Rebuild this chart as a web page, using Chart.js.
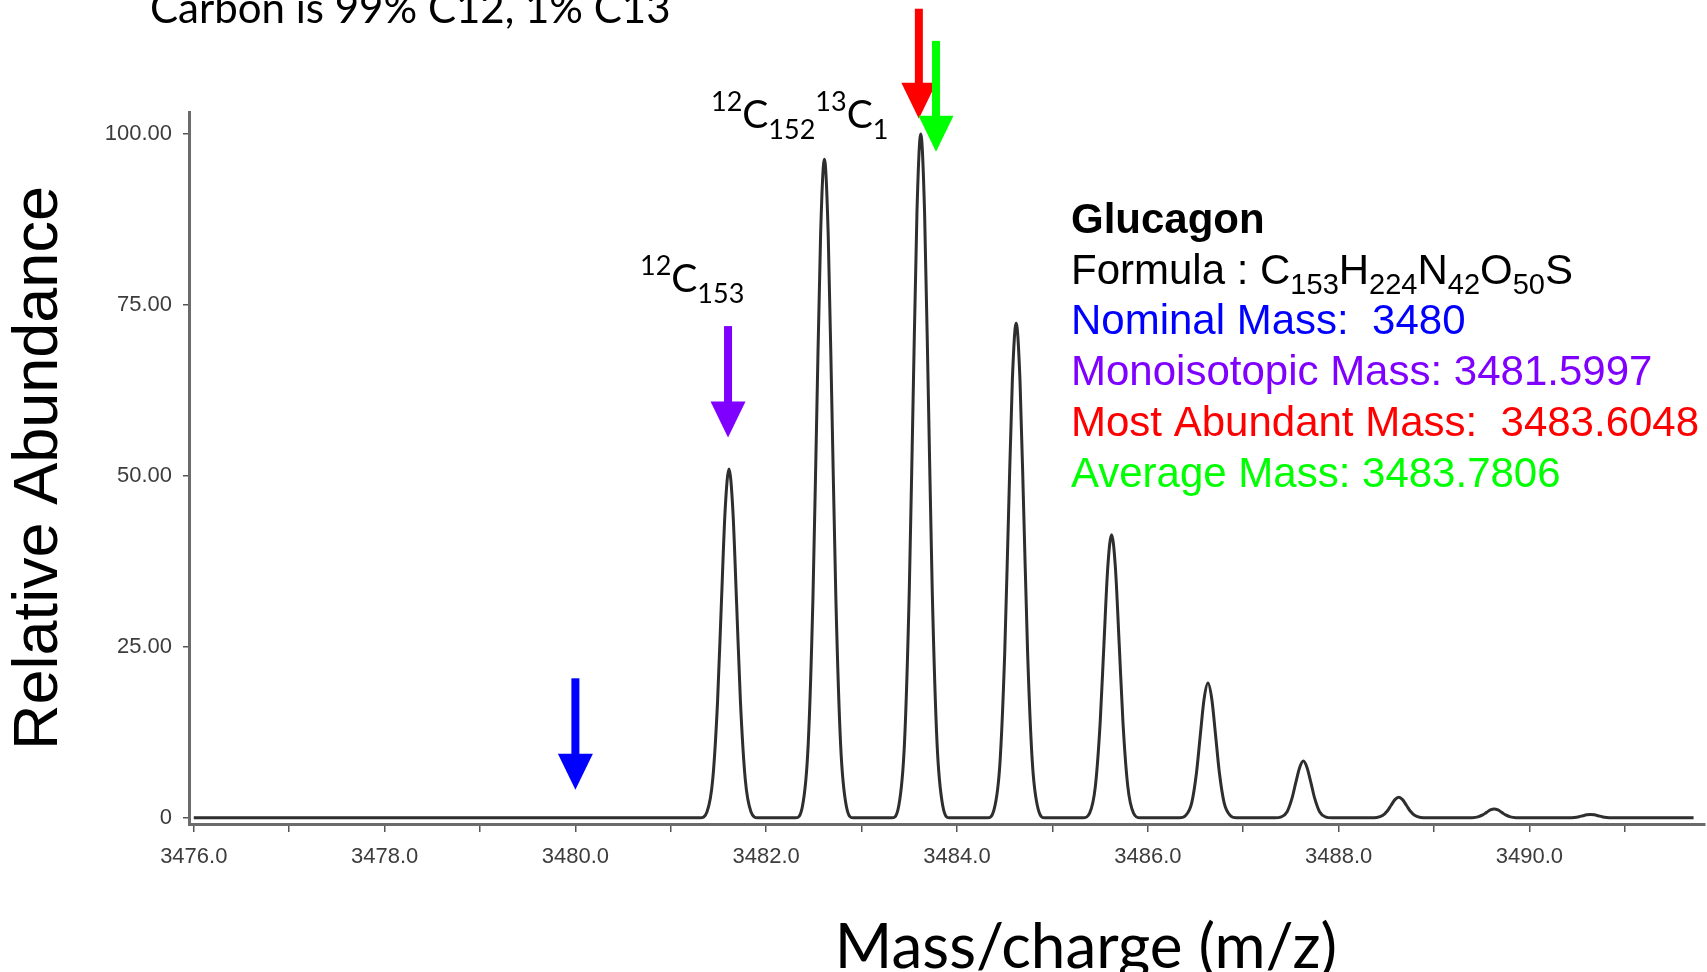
<!DOCTYPE html>
<html>
<head>
<meta charset="utf-8">
<title>Glucagon isotope distribution</title>
<script src="https://cdn.jsdelivr.net/npm/chart.js@4.4.1/dist/chart.umd.min.js"></script>
<style>
  html, body { margin: 0; padding: 0; background: #fff; }
  #wrap { position: relative; width: 1707px; height: 972px; }
</style>
</head>
<body>
<div id="wrap"><canvas id="spectrum"></canvas></div>
<script>
// profile trace, one row per isotope peak
var mz = [
  3476.00,
  3481.31, 3481.38, 3481.44, 3481.49, 3481.53, 3481.57, 3481.61, 3481.65, 3481.69, 3481.73, 3481.78, 3481.84, 3481.91,
  3482.31, 3482.38, 3482.44, 3482.49, 3482.53, 3482.57, 3482.61, 3482.65, 3482.69, 3482.73, 3482.78, 3482.84, 3482.91,
  3483.32, 3483.39, 3483.45, 3483.50, 3483.54, 3483.58, 3483.62, 3483.66, 3483.70, 3483.74, 3483.79, 3483.85, 3483.92,
  3484.32, 3484.39, 3484.45, 3484.50, 3484.54, 3484.58, 3484.62, 3484.66, 3484.70, 3484.74, 3484.79, 3484.85, 3484.92,
  3485.32, 3485.39, 3485.45, 3485.50, 3485.54, 3485.58, 3485.62, 3485.66, 3485.70, 3485.74, 3485.79, 3485.85, 3485.92,
  3486.33, 3486.40, 3486.46, 3486.51, 3486.55, 3486.59, 3486.63, 3486.67, 3486.71, 3486.75, 3486.80, 3486.86, 3486.93,
  3487.33, 3487.40, 3487.46, 3487.51, 3487.55, 3487.59, 3487.63, 3487.67, 3487.71, 3487.75, 3487.80, 3487.86, 3487.93,
  3488.33, 3488.40, 3488.46, 3488.51, 3488.55, 3488.59, 3488.63, 3488.67, 3488.71, 3488.75, 3488.80, 3488.86, 3488.93,
  3489.33, 3489.40, 3489.46, 3489.51, 3489.55, 3489.59, 3489.63, 3489.67, 3489.71, 3489.75, 3489.80, 3489.86, 3489.93,
  3490.34, 3490.41, 3490.47, 3490.52, 3490.56, 3490.60, 3490.64, 3490.68, 3490.72, 3490.76, 3490.81, 3490.87, 3490.94,
  3491.72
];
var abundance = [
  0,
  0, 0.9, 5.7, 17.0, 31.3, 45.1, 51.0, 45.1, 31.3, 17.0, 5.7, 0.9, 0,
  0, 1.7, 10.7, 32.2, 59.1, 85.2, 96.3, 85.2, 59.1, 32.2, 10.7, 1.7, 0,
  0, 1.8, 11.1, 33.4, 61.4, 88.5, 100.0, 88.5, 61.4, 33.4, 11.1, 1.8, 0,
  0, 1.3, 8.0, 24.1, 44.4, 64.0, 72.3, 64.0, 44.4, 24.1, 8.0, 1.3, 0,
  0, 0.7, 4.6, 13.8, 25.4, 36.6, 41.4, 36.6, 25.4, 13.8, 4.6, 0.7, 0,
  0, 0.4, 2.2, 6.6, 12.1, 17.4, 19.7, 17.4, 12.1, 6.6, 2.2, 0.4, 0,
  0, 0.15, 0.9, 2.8, 5.1, 7.3, 8.3, 7.3, 5.1, 2.8, 0.9, 0.15, 0,
  0, 0.05, 0.33, 1.0, 1.84, 2.66, 3.0, 2.66, 1.84, 1.0, 0.33, 0.05, 0,
  0, 0.02, 0.14, 0.43, 0.8, 1.15, 1.3, 1.15, 0.8, 0.43, 0.14, 0.02, 0,
  0, 0.01, 0.06, 0.17, 0.31, 0.44, 0.5, 0.44, 0.31, 0.17, 0.06, 0.01, 0,
  0
];

var xTicks = [3476, 3477, 3478, 3479, 3480, 3481, 3482, 3483, 3484, 3485, 3486, 3487, 3488, 3489, 3490, 3491];
var xTickLabels = ['3476.0', '', '3478.0', '', '3480.0', '', '3482.0', '', '3484.0', '', '3486.0', '', '3488.0', '', '3490.0', ''];
var yTicks = [0, 25, 50, 75, 100];
var yTickLabels = ['0', '25.00', '50.00', '75.00', '100.00'];

// arrows: m/z position, tail and tip in abundance units
var arrows = [
  { mz: 3480.0,  tail: 20.4,  tip: 4.1,   color: '#0000ff' },
  { mz: 3481.6,  tail: 71.9,  tip: 55.6,  color: '#7f00ff' },
  { mz: 3483.6,  tail: 118.3, tip: 102.2, color: '#ff0000' },
  { mz: 3483.78, tail: 113.6, tip: 97.4,  color: '#00ff00' }
];

var tickFont = { family: 'Liberation Sans', size: 22 };
var CAL = 'Lato';
var ARIAL = '"Liberation Sans"';

function drawRuns(ctx, x, y, runs) {
  runs.forEach(function (r) {
    ctx.font = r.font;
    ctx.fillText(r.text, x, y + (r.dy || 0));
    x += ctx.measureText(r.text).width;
  });
}

var annotations = {
  id: 'annotations',
  afterDraw: function (chart) {
    var ctx = chart.ctx;
    var xs = chart.scales.x, ys = chart.scales.y;
    ctx.save();

    // arrows
    arrows.forEach(function (a) {
      var x = xs.getPixelForValue(a.mz);
      var top = ys.getPixelForValue(a.tail);
      var tip = ys.getPixelForValue(a.tip);
      var headLen = 36, headW = 35, shaftW = 8;
      ctx.fillStyle = a.color;
      ctx.fillRect(x - shaftW / 2, top, shaftW, tip - headLen - top + 1);
      ctx.beginPath();
      ctx.moveTo(x - headW / 2, tip - headLen);
      ctx.lineTo(x + headW / 2, tip - headLen);
      ctx.lineTo(x, tip);
      ctx.closePath();
      ctx.fill();
    });

    ctx.fillStyle = '#000';
    ctx.textBaseline = 'alphabetic';
    ctx.textAlign = 'left';

    // header line, cut off by the top edge
    ctx.font = '42px ' + CAL;
    ctx.fillText('Carbon is 99% C12, 1% C13', 150, 23);

    // isotope labels
    var big = '39px ' + CAL, small = '27px ' + CAL;
    drawRuns(ctx, 640, 292, [
      { text: '12', font: small, dy: -17 },
      { text: 'C', font: big },
      { text: '153', font: small, dy: 11 }
    ]);
    drawRuns(ctx, 711, 128, [
      { text: '12', font: small, dy: -17 },
      { text: 'C', font: big },
      { text: '152', font: small, dy: 11 },
      { text: '13', font: small, dy: -17 },
      { text: 'C', font: big },
      { text: '1', font: small, dy: 11 }
    ]);

    // info block
    var f = '42px ' + ARIAL, fs = '29px ' + ARIAL;
    var left = 1071;
    ctx.font = '700 42px ' + ARIAL;
    ctx.fillText('Glucagon', left, 233);
    drawRuns(ctx, left, 283.5, [
      { text: 'Formula : C', font: f },
      { text: '153', font: fs, dy: 10 },
      { text: 'H', font: f },
      { text: '224', font: fs, dy: 10 },
      { text: 'N', font: f },
      { text: '42', font: fs, dy: 10 },
      { text: 'O', font: f },
      { text: '50', font: fs, dy: 10 },
      { text: 'S', font: f }
    ]);
    ctx.font = f;
    ctx.fillStyle = '#0000ff';
    ctx.fillText('Nominal Mass:  3480', left, 334);
    ctx.fillStyle = '#7f00ff';
    ctx.fillText('Monoisotopic Mass: 3481.5997', left, 385);
    ctx.fillStyle = '#ff0000';
    ctx.fillText('Most Abundant Mass:  3483.6048', left, 436);
    ctx.fillStyle = '#00ff00';
    ctx.fillText('Average Mass: 3483.7806', left, 487);

    // x axis title, placed right of centre as in the original
    ctx.fillStyle = '#000';
    ctx.textAlign = 'center';
    ctx.font = '62px ' + CAL;
    ctx.fillText('Mass/charge (m/z)', 1086, 968);

    ctx.restore();
  }
};

var points = mz.map(function (m, i) { return { x: m, y: abundance[i] }; });

new Chart(document.getElementById('spectrum'), {
  type: 'line',
  data: {
    datasets: [{
      data: points,
      borderColor: '#2e2e2e',
      borderWidth: 3,
      pointRadius: 0,
      fill: false,
      cubicInterpolationMode: 'monotone',
      borderJoinStyle: 'round'
    }]
  },
  options: {
    responsive: true,
    maintainAspectRatio: false,
    animation: false,
    devicePixelRatio: 1,
    layout: { padding: { top: 112, right: 2, bottom: 0, left: 0 } },
    plugins: { legend: { display: false }, tooltip: { enabled: false } },
    scales: {
      x: {
        type: 'linear',
        min: 3475.95,
        max: 3491.84,
        afterBuildTicks: function (axis) { axis.ticks = xTicks.map(function (v) { return { value: v }; }); },
        afterFit: function (axis) { axis.height = 148; },
        ticks: {
          autoSkip: false, maxRotation: 0, padding: 12, color: '#3c3c3c', font: tickFont,
          callback: function (v, i) { return xTickLabels[i]; }
        },
        grid: { drawOnChartArea: false, drawTicks: true, tickLength: 8, color: '#555', lineWidth: 1.5 },
        border: { display: true, color: '#6b6b6b', width: 3 }
      },
      y: {
        type: 'linear',
        min: -0.9,
        max: 103.2,
        afterBuildTicks: function (axis) { axis.ticks = yTicks.map(function (v) { return { value: v }; }); },
        afterFit: function (axis) { axis.width = 189; },
        ticks: {
          padding: 11, color: '#3c3c3c', font: tickFont,
          callback: function (v, i) { return yTickLabels[i]; }
        },
        grid: { drawOnChartArea: false, drawTicks: true, tickLength: 6, color: '#555', lineWidth: 1.5 },
        border: { display: true, color: '#6b6b6b', width: 3 },
        title: {
          display: true, text: 'Relative Abundance', color: '#000', padding: { top: 2, bottom: 0 },
          font: { family: 'Liberation Sans', size: 63 }
        }
      }
    }
  },
  plugins: [annotations]
});
</script>
</body>
</html>
